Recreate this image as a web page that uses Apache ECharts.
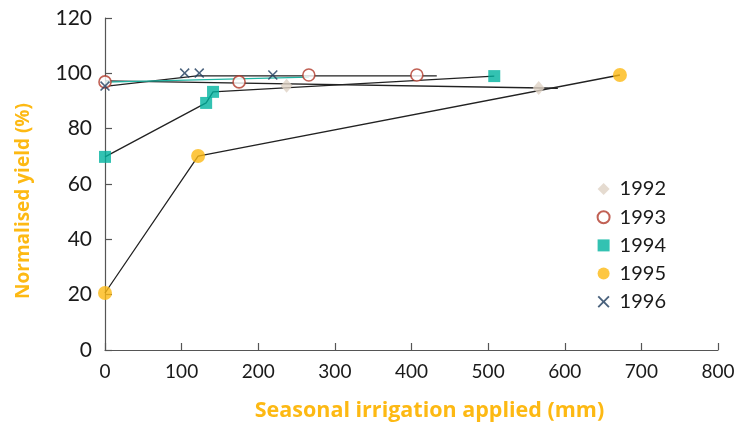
<!DOCTYPE html>
<html>
<head>
<meta charset="utf-8">
<script src="https://cdn.jsdelivr.net/npm/echarts@6/dist/echarts.min.js"></script>
<style>html,body{margin:0;padding:0;background:#fff}#c{width:749px;height:426px}</style>
</head>
<body>
<div id="c"></div>
<script>
// Observed points [irrigation mm, normalised yield %]
const pts1992 = [[237, 95.5], [566, 94.7]];
const pts1993 = [[0, 96.9], [175, 96.9], [266, 99.4], [407, 99.4]];
const pts1994 = [[0, 69.8], [132, 89.3], [141, 93.3], [508, 99.0]];
const pts1995 = [[0, 20.6], [121.5, 70.1], [672, 99.4]];
const pts1996 = [[0, 95.4], [104, 100.1], [123, 100.1], [219, 99.4]];

// Fitted response lines
const fit1992 = [[0, 97.3], [591, 94.6]];
const fit1993 = [[0, 96.8], [266, 98.6]];
const fit1994 = [[0, 69.8], [132, 89.3], [141, 93.3], [508, 99.0]];
const fit1995 = [[0, 20.6], [121.5, 70.1], [672, 99.4]];
const fit1996 = [[0, 95.3], [120, 99.1], [433, 99.1]];

const years = ['1992', '1993', '1994', '1995', '1996'];
const xTicks = [0, 100, 200, 300, 400, 500, 600, 700, 800];
const yTicks = [0, 20, 40, 60, 80, 100, 120];

const FONT = 'Lato, "Open Sans", sans-serif';
const TITLE_FONT = '"Open Sans", Lato, sans-serif';
const crossPath = 'path://M0,1.1L1.1,0L5,3.9L8.9,0L10,1.1L6.1,5L10,8.9L8.9,10L5,6.1L1.1,10L0,8.9L3.9,5Z';

function fitLine(data, color, z) {
  return {
    type: 'line', data: data, symbol: 'none', silent: true, z: z || 2,
    lineStyle: { color: color, width: 1.3 }, legendHoverLink: false, animation: false
  };
}

const chart = echarts.init(document.getElementById('c'), null, { renderer: 'canvas' });
chart.setOption({
  animation: false,
  grid: { left: 105, right: 31, top: 18, bottom: 76, outerBoundsMode: 'none', containLabel: false },
  legend: {
    orient: 'vertical', right: 78, top: 174, itemGap: 8.2,
    itemWidth: 12, itemHeight: 12,
    data: years,
    textStyle: { fontFamily: FONT, fontSize: 20, color: '#1a1a1a', padding: [0, 0, 0, 5] }
  },
  xAxis: {
    type: 'value', min: 0, max: 800, interval: 100,
    name: 'Seasonal irrigation applied (mm)', nameLocation: 'middle', nameGap: 50,
    nameTextStyle: { fontFamily: TITLE_FONT, fontSize: 21.5, fontWeight: 'bold', color: '#fdb913',
      padding: [0, 0, 0, 36] },
    axisLine: { show: true, lineStyle: { color: '#555', width: 1.2 } },
    axisTick: { show: true, inside: true, length: 7, lineStyle: { color: '#555', width: 1.2 } },
    axisLabel: { fontFamily: FONT, fontSize: 19, color: '#1a1a1a', margin: 12,
      formatter: v => xTicks.includes(v) ? String(v) : '' },
    splitLine: { show: false }
  },
  yAxis: {
    type: 'value', min: 0, max: 120, interval: 20,
    name: 'Normalised yield (%)', nameLocation: 'middle', nameGap: 72,
    nameTextStyle: { fontFamily: TITLE_FONT, fontSize: 19, fontWeight: 'bold', color: '#fdb913',
      padding: [0, 34, 0, 0] },
    axisLine: { show: true, lineStyle: { color: '#555', width: 1.2 } },
    axisTick: { show: true, inside: true, length: 7, lineStyle: { color: '#555', width: 1.2 } },
    axisLabel: { fontFamily: FONT, fontSize: 21, color: '#1a1a1a', margin: 13,
      formatter: v => yTicks.includes(v) ? String(v) : '' },
    splitLine: { show: false }
  },
  series: [
    fitLine(fit1992, '#222'),
    fitLine(fit1994, '#222'),
    fitLine(fit1995, '#222'),
    fitLine(fit1996, '#222'),
    fitLine(fit1993, '#1fb5a3', 3),
    { name: '1992', type: 'scatter', data: pts1992, symbol: 'diamond', symbolSize: [12, 14], z: 5,
      itemStyle: { color: '#dfd2c4' } },
    { name: '1993', type: 'scatter', data: pts1993, symbol: 'circle', symbolSize: 12, z: 5,
      itemStyle: { color: '#ffffff', borderColor: '#b2392b', borderWidth: 1.6 } },
    { name: '1994', type: 'scatter', data: pts1994, symbol: 'rect', symbolSize: 12, z: 5,
      itemStyle: { color: '#00b39f' } },
    { name: '1995', type: 'scatter', data: pts1995, symbol: 'circle', symbolSize: 14, z: 5,
      itemStyle: { color: '#fdb913' } },
    { name: '1996', type: 'scatter', data: pts1996, symbol: crossPath, symbolSize: 10, z: 6,
      itemStyle: { color: '#1d3b5c' } }
  ]
});
</script>
</body>
</html>
